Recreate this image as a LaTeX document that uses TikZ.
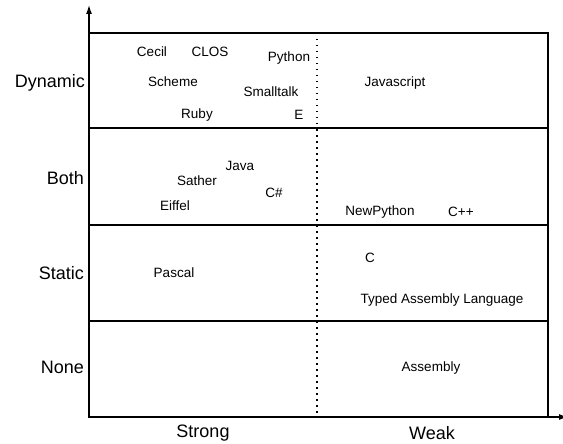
\documentclass[tikz,border=0pt]{standalone}
\usepackage{fontspec}
\setmainfont{Liberation Sans}
\usetikzlibrary{calc, arrows.meta}

\begin{document}
\begin{tikzpicture}[x=1pt, y=-1pt,
	lang/.style = {font=\fontsize{13.5}{16}\selectfont, inner sep=0pt},
	axislabel/.style = {font=\fontsize{18}{21}\selectfont, inner sep=0pt}]
	\def\xmin{89};
	\def\xmax{548};
	\def\xmid{317};

	\useasboundingbox (0,0) rectangle (563,444);

	\coordinate (origin) at (\xmin,417);
	\coordinate (ytip) at (\xmin,5);
	\coordinate (xtip) at (568,417);

	% axes
	\begin{scope}[line width=1.2pt, -{Latex[length=9pt, width=6pt]}]
		\draw (origin) -- (ytip);
		\draw (origin) -- (xtip);
	\end{scope}

	% grid
	\draw[line width=1.2pt] (\xmin,33) rectangle (\xmax,417);
	\draw[line width=1.2pt] (\xmin,128) -- (\xmax,128);
	\draw[line width=1.2pt] (\xmin,225) -- (\xmax,225);
	\draw[line width=1.2pt] (\xmin,321) -- (\xmax,321);
	\draw[line width=1.2pt, dash pattern=on 1.5pt off 4.5pt] (\xmid,33) -- (\xmid,417);

	% checking levels
	\node[axislabel, anchor=east] (dynamic) at (85,83) {Dynamic};
	\node[axislabel, anchor=east] (both) at (84,178) {Both};
	\node[axislabel, anchor=east] (static) at (84,273) {Static};
	\node[axislabel, anchor=east] (none) at (84,367) {None};
	\node[axislabel] (strong) at (203,433) {Strong};
	\node[axislabel] (weak) at (432,433) {Weak};

	% languages
	\node[lang] (cecil) at (152,52) {Cecil};
	\node[lang] (clos) at (210,52) {CLOS};
	\node[lang] (python) at (289,58) {Python};
	\node[lang] (scheme) at (173,82) {Scheme};
	\node[lang] (smalltalk) at (271,92) {Smalltalk};
	\node[lang] (ruby) at (197,115) {Ruby};
	\node[lang] (e) at (299,115) {E};
	\node[lang] (javascript) at (395,83) {Javascript};

	\node[lang] (java) at (240,166) {Java};
	\node[lang] (sather) at (197,181) {Sather};
	\node[lang] (csharp) at (274,193) {C\#};
	\node[lang] (eiffel) at (175,206) {Eiffel};
	\node[lang] (newpython) at (380,212) {NewPython};
	\node[lang] (cpp) at (461,212) {C++};

	\node[lang] (pascal) at (174,273) {Pascal};
	\node[lang] (c) at (370,258) {C};
	\node[lang] (tal) at (442,300) {Typed Assembly Language};

	\node[lang] (assembly) at (431,368) {Assembly};
\end{tikzpicture}
\end{document}
